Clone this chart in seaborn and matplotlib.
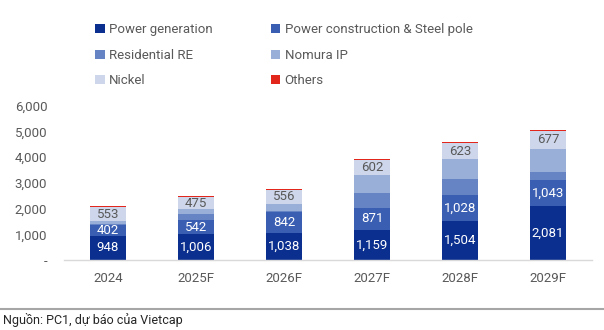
import matplotlib
matplotlib.use("Agg")
import matplotlib.pyplot as plt
import matplotlib.ticker as mticker
from matplotlib.patches import Patch
import numpy as np
import pandas as pd
import seaborn as sns

# Revenue breakdown by segment (VND bn)
years = ["2024", "2025F", "2026F", "2027F", "2028F", "2029F"]
power_generation = [948, 1006, 1038, 1159, 1504, 2081]
power_construction = [402, 542, 842, 871, 1028, 1043]
residential_re = [60, 240, 20, 560, 630, 310]
nomura_ip = [100, 180, 280, 700, 760, 900]
nickel = [553, 475, 556, 602, 623, 677]
others = [30, 30, 30, 30, 30, 30]

series_names = ["Power generation", "Power construction & Steel pole",
                "Residential RE", "Nomura IP", "Nickel", "Others"]
series_values = [power_generation, power_construction, residential_re,
                 nomura_ip, nickel, others]
colors = ["#0b2f8e", "#3a5eb1", "#6683c3", "#9aafd7", "#cdd6ea", "#e2261c"]
label_colors = ["white", "white", None, None, "#595959", None]
labelled = [True, True, False, False, True, False]

font = ["Roboto", "DejaVu Sans"]
sns.set_theme(style="white")
plt.rcParams["font.family"] = font
text_grey = "#595959"

df = pd.DataFrame({"year": years})
for name, vals in zip(series_names, series_values):
    df[name] = vals
cum = df[series_names].cumsum(axis=1)

fig = plt.figure(figsize=(6.04, 3.30), dpi=100)
ax = fig.add_axes([64 / 604, 1 - 260 / 330, (592 - 64) / 604, (260 - 105.7) / 330])

# Stacked bars: draw cumulative totals from the top segment down
for i in reversed(range(len(series_names))):
    name = series_names[i]
    sns.barplot(data=cum.assign(year=years), x="year", y=name, color=colors[i],
                width=0.4, saturation=1, ax=ax, errorbar=None, linewidth=0)

# containers were added top-down; map them back to series order
containers = list(reversed(ax.containers))
for i, cont in enumerate(containers):
    if not labelled[i]:
        continue
    vals = series_values[i]
    for patch, v in zip(cont.patches, vals):
        top = patch.get_height()
        ax.text(patch.get_x() + patch.get_width() / 2, top - v / 2, f"{v:,}",
                ha="center", va="center", fontsize=9.5, color=label_colors[i],
                family=font)

ax.set_ylim(0, 6000)
ax.set_xlim(-0.5, 5.5)
ax.set_yticks(np.arange(0, 6001, 1000))
ax.yaxis.set_major_formatter(mticker.FuncFormatter(
    lambda v, p: "-" if v == 0 else f"{int(v):,}"))
ax.set_xlabel("")
ax.set_ylabel("")
for s in ["top", "right", "left"]:
    ax.spines[s].set_visible(False)
ax.spines["bottom"].set_color("#d9d9d9")
ax.spines["bottom"].set_linewidth(1)
ax.tick_params(axis="y", length=0, pad=12, labelsize=9.5, labelcolor=text_grey)
ax.tick_params(axis="x", length=0, pad=9, labelsize=9.5, labelcolor=text_grey)
ax.grid(False)

# Legend laid out row by row (two columns)
handles = [Patch(facecolor=c, edgecolor="none") for c in colors]
order = [0, 2, 4, 1, 3, 5]
fig.legend([handles[k] for k in order], [series_names[k] for k in order],
           loc="upper left", bbox_to_anchor=(90 / 604, 1 - 18 / 330), ncol=2,
           frameon=False, fontsize=9.5, labelcolor=text_grey,
           handlelength=0.7, handleheight=0.7, handletextpad=0.35,
           columnspacing=4.4, labelspacing=0.95, borderaxespad=0)

# Source line
fig.add_artist(plt.Line2D([0, 1], [1 - 309 / 330, 1 - 309 / 330],
                          transform=fig.transFigure, color="#a6a6a6", lw=1.5))
fig.text(3 / 604, 1 - 320 / 330, "Nguồn: PC1, dự báo của Vietcap",
         fontsize=9, color="#262626", va="center", ha="left", family=font)

fig.savefig("out.png", dpi=100)
